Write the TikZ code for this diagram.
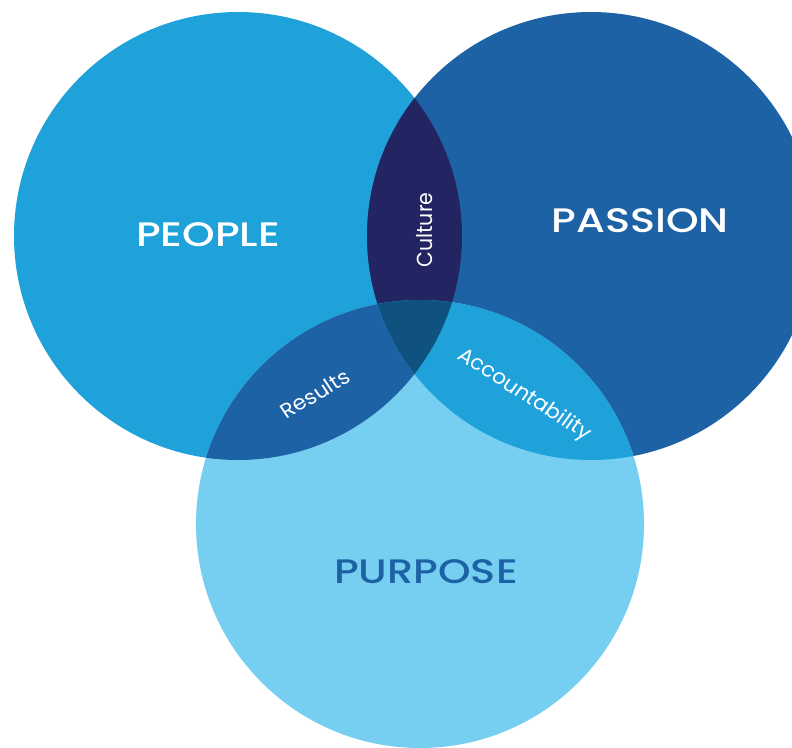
\documentclass[tikz,border=0pt]{standalone}
\usepackage{fontspec}
\setmainfont{Poppins}[UprightFont=* Medium]
\newfontfamily\thinfont{Poppins}
\usepackage{xcolor}
\usepackage{tikz}
\usetikzlibrary{calc}
\usetikzlibrary{positioning}

\definecolor{peoplecol}{HTML}{1FA2DA}
\definecolor{passioncol}{HTML}{1E62A6}
\definecolor{purposecol}{HTML}{76CFF1}
\definecolor{culturecol}{HTML}{232562}
\definecolor{corecol}{HTML}{10527F}

\begin{document}
\begin{tikzpicture}[x=1pt,y=-1pt]
	\tikzstyle{big label}=[text=white, xscale=1.22, font=\fontsize{34}{40}\selectfont]
	\tikzstyle{small label}=[text=white, xscale=1.06, inner sep=1pt, font=\thinfont\fontsize{20.5}{24}\selectfont]
	\useasboundingbox (0,0) rectangle (792,747);
	\coordinate (PE) at (238,236);
	\coordinate (PA) at (591,236);
	\coordinate (PU) at (420,524);
	\def\rad{224}
	% the three circles
	\fill[peoplecol]  (PE) circle (\rad);
	\fill[passioncol] (PA) circle (\rad);
	\fill[purposecol] (PU) circle (\rad);
	% overlaps
	\begin{scope}
		\clip (PE) circle (\rad);
		\fill[culturecol] (PA) circle (\rad);
		\fill[passioncol] (PU) circle (\rad);
	\end{scope}
	\begin{scope}
		\clip (PA) circle (\rad);
		\fill[peoplecol] (PU) circle (\rad);
	\end{scope}
	\begin{scope}
		\clip (PE) circle (\rad);
		\clip (PA) circle (\rad);
		\fill[corecol] (PU) circle (\rad);
	\end{scope}
	% labels
	\node[big label] (people)  at (208,235) {PEOPLE};
	\node[big label] (passion) at (640,221) {PASSION};
	\node[big label, text=passioncol] (purpose) at (426,572) {PURPOSE};
	\node[small label, rotate=90]  (culture) at (425,230) {Culture};
	\node[small label, rotate=32]  (results) at (315,394) {Results};
	\node[small label, rotate=-34] (account) at (524,395) {Accountability};
\end{tikzpicture}
\end{document}
